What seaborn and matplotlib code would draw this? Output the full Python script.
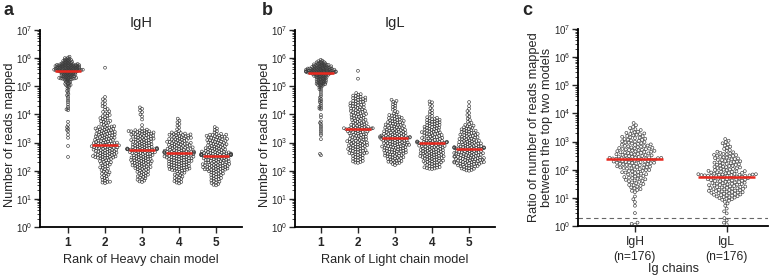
import numpy as np
import pandas as pd
import matplotlib
matplotlib.use("Agg")
import matplotlib.pyplot as plt
import seaborn as sns
from matplotlib.collections import PathCollection
from matplotlib.ticker import LogLocator, NullFormatter

# ---- data: log10 of the values ----------------------------------------------
# a) reads mapped to the heavy chain models, by rank
igh_rank1 = [6.05, 6.02, 6.00, 5.98, 5.97, 5.95, 5.94, 5.93, 5.92, 5.91,
             5.90, 5.89, 5.88, 5.87, 5.86, 5.85, 5.84, 5.83, 5.82, 5.82,
             5.81, 5.80, 5.79, 5.79, 5.78, 5.78, 5.78, 5.77, 5.77, 5.76,
             5.76, 5.76, 5.75, 5.75, 5.74, 5.74, 5.74, 5.73, 5.73, 5.72,
             5.72, 5.72, 5.71, 5.71, 5.71, 5.70, 5.70, 5.69, 5.69, 5.69,
             5.68, 5.68, 5.67, 5.67, 5.67, 5.66, 5.66, 5.65, 5.65, 5.65,
             5.64, 5.64, 5.63, 5.63, 5.63, 5.62, 5.62, 5.62, 5.61, 5.61,
             5.60, 5.60, 5.60, 5.59, 5.59, 5.59, 5.58, 5.58, 5.58, 5.57,
             5.57, 5.57, 5.56, 5.56, 5.56, 5.56, 5.55, 5.55, 5.54, 5.54,
             5.53, 5.53, 5.52, 5.52, 5.51, 5.51, 5.50, 5.50, 5.49, 5.48,
             5.48, 5.47, 5.46, 5.46, 5.45, 5.44, 5.44, 5.43, 5.42, 5.42,
             5.41, 5.40, 5.40, 5.39, 5.38, 5.38, 5.37, 5.36, 5.35, 5.35,
             5.34, 5.33, 5.32, 5.32, 5.31, 5.30, 5.30, 5.29, 5.28, 5.28,
             5.27, 5.27, 5.26, 5.26, 5.25, 5.25, 5.23, 5.21, 5.20, 5.18,
             5.16, 5.15, 5.13, 5.11, 5.09, 5.07, 5.05, 5.04, 5.02, 5.00,
             4.96, 4.92, 4.87, 4.83, 4.78, 4.72, 4.68, 4.63, 4.57, 4.50,
             4.44, 4.36, 4.28, 4.22, 4.18, 4.15, 3.74, 3.62, 3.55, 3.50,
             3.45, 3.40, 3.28, 3.17, 2.88, 2.49]
igh_rank2 = [5.66, 4.62, 4.54, 4.49, 4.40, 4.37, 4.29, 4.26, 4.19, 4.17,
             4.11, 4.09, 4.04, 4.03, 3.98, 3.95, 3.94, 3.90, 3.87, 3.86,
             3.83, 3.81, 3.77, 3.76, 3.74, 3.71, 3.69, 3.66, 3.63, 3.61,
             3.58, 3.57, 3.55, 3.55, 3.53, 3.52, 3.50, 3.49, 3.49, 3.47,
             3.46, 3.44, 3.43, 3.42, 3.41, 3.39, 3.38, 3.38, 3.36, 3.35,
             3.34, 3.32, 3.31, 3.31, 3.29, 3.28, 3.27, 3.25, 3.24, 3.24,
             3.22, 3.21, 3.20, 3.18, 3.17, 3.17, 3.15, 3.14, 3.13, 3.12,
             3.10, 3.10, 3.08, 3.07, 3.06, 3.05, 3.04, 3.02, 3.01, 3.00,
             2.99, 2.98, 2.98, 2.97, 2.96, 2.95, 2.94, 2.93, 2.92, 2.91,
             2.90, 2.89, 2.87, 2.87, 2.86, 2.84, 2.83, 2.83, 2.81, 2.80,
             2.79, 2.78, 2.76, 2.75, 2.75, 2.73, 2.72, 2.71, 2.70, 2.68,
             2.67, 2.67, 2.65, 2.64, 2.63, 2.61, 2.60, 2.59, 2.58, 2.56,
             2.55, 2.54, 2.53, 2.51, 2.50, 2.49, 2.47, 2.46, 2.45, 2.44,
             2.42, 2.40, 2.38, 2.37, 2.34, 2.32, 2.30, 2.28, 2.26, 2.24,
             2.22, 2.19, 2.17, 2.15, 2.12, 2.10, 2.07, 2.05, 2.02, 1.99,
             1.97, 1.94, 1.91, 1.89, 1.86, 1.84, 1.80, 1.77, 1.74, 1.71,
             1.68, 1.65, 1.61, 1.60, 1.58, 1.56, 2.88, 2.85, 2.80, 2.74,
             2.69, 2.62, 2.57, 2.52, 2.48, 2.46]
igh_rank3 = [4.25, 4.20, 4.14, 4.08, 4.00, 3.93, 3.82, 3.62, 3.50, 3.46,
             3.44, 3.43, 3.42, 3.41, 3.40, 3.40, 3.38, 3.37, 3.36, 3.35,
             3.34, 3.33, 3.31, 3.30, 3.30, 3.28, 3.27, 3.26, 3.24, 3.23,
             3.22, 3.21, 3.19, 3.18, 3.17, 3.16, 3.14, 3.13, 3.12, 3.10,
             3.09, 3.08, 3.06, 3.05, 3.04, 3.03, 3.01, 3.00, 2.99, 2.97,
             2.96, 2.95, 2.94, 2.92, 2.91, 2.90, 2.89, 2.88, 2.86, 2.85,
             2.84, 2.83, 2.82, 2.81, 2.80, 2.79, 2.78, 2.77, 2.77, 2.76,
             3.39, 3.32, 3.25, 3.20, 3.11, 3.07, 3.02, 2.93, 2.87, 2.81,
             2.79, 2.78, 2.77, 2.76, 2.76, 2.76, 2.75, 2.75, 2.74, 2.73,
             2.73, 2.71, 2.70, 2.69, 2.67, 2.66, 2.66, 2.64, 2.63, 2.62,
             2.60, 2.59, 2.59, 2.57, 2.56, 2.55, 2.53, 2.52, 2.51, 2.50,
             2.48, 2.47, 2.46, 2.44, 2.43, 2.42, 2.40, 2.39, 2.38, 2.36,
             2.35, 2.34, 2.32, 2.31, 2.29, 2.28, 2.27, 2.25, 2.24, 2.22,
             2.21, 2.19, 2.18, 2.16, 2.15, 2.13, 2.12, 2.10, 2.08, 2.06,
             2.05, 2.03, 2.01, 1.99, 1.97, 1.96, 1.94, 1.92, 1.90, 1.88,
             1.86, 1.84, 1.82, 1.80, 1.78, 1.76, 1.73, 1.70, 1.68, 1.65,
             1.62, 1.60, 2.71, 2.65, 2.61, 2.54, 2.49, 2.45, 2.41, 2.37,
             2.33, 2.30, 2.26, 2.20, 2.14, 2.09]
igh_rank4 = [3.85, 3.78, 3.72, 3.66, 3.60, 3.53, 3.47, 3.41, 3.36, 3.35,
             3.34, 3.32, 3.31, 3.30, 3.29, 3.28, 3.26, 3.25, 3.24, 3.23,
             3.22, 3.20, 3.19, 3.18, 3.17, 3.16, 3.15, 3.13, 3.12, 3.11,
             3.10, 3.09, 3.08, 3.06, 3.05, 3.04, 3.03, 3.02, 3.01, 2.99,
             2.98, 2.97, 2.96, 2.95, 2.94, 2.93, 2.91, 2.90, 2.89, 2.88,
             2.87, 2.86, 2.85, 2.84, 2.83, 2.82, 2.81, 2.80, 2.79, 2.78,
             2.77, 2.76, 2.75, 2.74, 2.73, 2.72, 2.71, 2.70, 2.69, 2.69,
             2.68, 2.68, 2.67, 2.67, 2.66, 2.66, 2.65, 2.65, 2.64, 2.64,
             2.64, 2.63, 2.63, 3.27, 3.14, 3.00, 2.92, 2.78, 2.62, 2.61,
             2.60, 2.59, 2.58, 2.57, 2.56, 2.55, 2.54, 2.53, 2.52, 2.51,
             2.50, 2.49, 2.48, 2.47, 2.46, 2.45, 2.44, 2.43, 2.42, 2.41,
             2.40, 2.39, 2.37, 2.36, 2.35, 2.34, 2.33, 2.32, 2.30, 2.29,
             2.28, 2.27, 2.26, 2.24, 2.23, 2.22, 2.21, 2.20, 2.18, 2.17,
             2.16, 2.15, 2.13, 2.12, 2.11, 2.10, 2.08, 2.07, 2.06, 2.05,
             2.04, 2.02, 2.01, 2.00, 2.58, 2.47, 2.38, 2.25, 2.14, 2.09,
             2.03, 2.55, 2.44, 2.31, 2.19, 2.60, 2.50, 2.35, 1.98, 1.96,
             1.93, 1.91, 1.89, 1.86, 1.84, 1.81, 1.79, 1.76, 1.74, 1.71,
             1.68, 1.66, 1.63, 1.60, 1.58, 1.55]
igh_rank5 = [3.55, 3.50, 3.45, 3.40, 3.36, 3.31, 3.30, 3.28, 3.28, 3.27,
             3.25, 3.24, 3.23, 3.21, 3.21, 3.19, 3.18, 3.17, 3.16, 3.14,
             3.13, 3.12, 3.11, 3.09, 3.08, 3.08, 3.06, 3.05, 3.04, 3.02,
             3.01, 3.00, 2.99, 2.98, 2.96, 2.95, 2.94, 2.93, 2.92, 2.90,
             2.89, 2.88, 2.87, 2.86, 2.85, 2.83, 2.82, 2.81, 2.80, 2.79,
             2.78, 2.77, 2.76, 2.75, 2.74, 2.73, 2.72, 2.71, 2.70, 2.69,
             2.68, 2.67, 2.66, 2.66, 2.65, 2.64, 2.63, 2.63, 2.62, 2.61,
             2.61, 2.60, 2.60, 2.59, 2.59, 2.58, 2.58, 2.57, 2.57, 2.57,
             2.56, 2.56, 2.56, 2.55, 2.55, 2.55, 2.54, 2.54, 2.53, 2.53,
             2.52, 2.51, 2.50, 2.49, 2.48, 2.47, 2.46, 2.45, 2.44, 2.43,
             2.42, 2.41, 2.40, 2.39, 2.38, 2.37, 2.36, 2.35, 2.34, 2.33,
             2.32, 2.31, 2.30, 2.29, 2.28, 2.27, 2.26, 2.25, 2.24, 2.23,
             2.22, 2.21, 2.20, 2.19, 2.18, 2.17, 2.16, 2.15, 2.14, 2.13,
             2.12, 2.11, 2.10, 2.09, 2.08, 2.07, 2.06, 2.05, 2.04, 2.03,
             2.02, 2.01, 2.00, 1.98, 1.97, 1.95, 1.94, 1.92, 1.90, 1.89,
             1.87, 1.85, 1.84, 1.82, 1.80, 1.78, 1.76, 1.74, 1.72, 1.70,
             1.68, 1.65, 1.63, 1.61, 1.58, 1.56, 1.53, 1.50, 1.48, 2.44,
             2.29, 2.16, 2.05, 2.38, 2.21, 2.10]

# b) reads mapped to the light chain models, by rank
igl_rank1 = [5.94, 5.91, 5.89, 5.87, 5.85, 5.84, 5.83, 5.82, 5.81, 5.80,
             5.79, 5.78, 5.78, 5.77, 5.76, 5.75, 5.75, 5.74, 5.73, 5.73,
             5.72, 5.71, 5.71, 5.70, 5.70, 5.69, 5.68, 5.68, 5.67, 5.67,
             5.66, 5.66, 5.65, 5.65, 5.64, 5.64, 5.63, 5.63, 5.63, 5.62,
             5.62, 5.61, 5.61, 5.61, 5.60, 5.60, 5.59, 5.59, 5.59, 5.58,
             5.58, 5.57, 5.57, 5.57, 5.56, 5.56, 5.56, 5.55, 5.55, 5.55,
             5.54, 5.54, 5.54, 5.53, 5.53, 5.53, 5.52, 5.52, 5.52, 5.51,
             5.51, 5.51, 5.50, 5.50, 5.50, 5.50, 5.49, 5.49, 5.49, 5.49,
             5.48, 5.48, 5.48, 5.47, 5.47, 5.46, 5.46, 5.45, 5.45, 5.44,
             5.44, 5.43, 5.43, 5.42, 5.41, 5.41, 5.40, 5.39, 5.39, 5.38,
             5.37, 5.36, 5.36, 5.35, 5.34, 5.33, 5.32, 5.32, 5.31, 5.30,
             5.29, 5.28, 5.27, 5.26, 5.25, 5.24, 5.23, 5.22, 5.21, 5.20,
             5.19, 5.18, 5.17, 5.16, 5.15, 5.14, 5.13, 5.12, 5.11, 5.10,
             5.09, 5.08, 5.07, 5.06, 5.05, 5.04, 5.02, 5.00, 4.97, 4.94,
             4.90, 4.87, 4.80, 4.72, 4.65, 4.60, 4.55, 4.50, 4.47, 4.43,
             4.38, 4.31, 4.27, 4.24, 4.21, 4.18, 3.98, 3.90, 3.75, 3.70,
             3.65, 3.58, 3.52, 3.45, 3.39, 3.32, 3.26, 3.12, 2.60, 2.55,
             5.86, 5.76, 5.69, 5.62, 5.58, 5.53]
igl_rank2 = [5.55, 5.27, 4.76, 4.72, 4.70, 4.67, 4.66, 4.63, 4.61, 4.60,
             4.58, 4.56, 4.55, 4.53, 4.52, 4.50, 4.48, 4.47, 4.45, 4.44,
             4.42, 4.40, 4.39, 4.37, 4.36, 4.34, 4.33, 4.31, 4.29, 4.28,
             4.26, 4.25, 4.23, 4.21, 4.20, 4.18, 4.17, 4.15, 4.13, 4.12,
             4.10, 4.09, 4.07, 4.05, 4.04, 4.02, 4.01, 3.99, 3.97, 3.96,
             3.94, 3.93, 3.91, 3.89, 3.88, 3.86, 3.85, 3.83, 3.81, 3.80,
             3.78, 3.77, 3.75, 3.73, 3.72, 3.70, 3.69, 3.67, 3.66, 3.64,
             3.63, 3.61, 3.60, 3.59, 3.57, 3.56, 3.55, 3.54, 3.53, 3.52,
             3.51, 3.51, 3.50, 3.50, 3.49, 3.49, 3.48, 3.47, 3.46, 3.45,
             3.44, 3.43, 3.41, 3.40, 3.39, 3.37, 3.36, 3.35, 3.33, 3.32,
             3.31, 3.29, 3.28, 3.27, 3.25, 3.24, 3.23, 3.21, 3.20, 3.19,
             3.17, 3.16, 3.15, 3.13, 3.12, 3.11, 3.09, 3.08, 3.07, 3.05,
             3.04, 3.03, 3.01, 3.00, 2.99, 2.97, 2.96, 2.95, 2.93, 2.92,
             2.91, 2.89, 2.88, 2.87, 2.85, 2.84, 2.83, 2.81, 2.80, 2.79,
             2.77, 2.76, 2.75, 2.73, 2.72, 2.70, 2.69, 2.67, 2.66, 2.64,
             2.63, 2.61, 2.60, 2.58, 2.56, 2.55, 2.53, 2.51, 2.49, 2.47,
             2.45, 2.43, 2.41, 2.39, 2.37, 2.35, 2.33, 2.31, 2.29, 2.28,
             3.46, 3.38, 3.02, 2.90, 2.71, 2.62]
igl_rank3 = [4.52, 4.48, 4.45, 4.40, 4.36, 4.31, 4.27, 4.22, 4.17, 4.12,
             4.08, 4.03, 4.00, 3.98, 3.96, 3.94, 3.92, 3.90, 3.88, 3.87,
             3.85, 3.84, 3.82, 3.80, 3.79, 3.77, 3.76, 3.75, 3.73, 3.72,
             3.71, 3.69, 3.68, 3.67, 3.65, 3.64, 3.63, 3.62, 3.60, 3.59,
             3.58, 3.57, 3.55, 3.54, 3.53, 3.52, 3.51, 3.50, 3.48, 3.47,
             3.46, 3.45, 3.44, 3.43, 3.42, 3.41, 3.40, 3.39, 3.38, 3.37,
             3.36, 3.35, 3.34, 3.33, 3.32, 3.31, 3.30, 3.29, 3.28, 3.27,
             3.26, 3.25, 3.25, 3.24, 3.23, 3.22, 3.22, 3.21, 3.20, 3.20,
             3.19, 3.19, 3.18, 3.18, 3.17, 3.17, 3.16, 3.16, 3.15, 3.14,
             3.13, 3.12, 3.11, 3.10, 3.09, 3.08, 3.07, 3.06, 3.05, 3.04,
             3.03, 3.02, 3.01, 3.00, 2.99, 2.98, 2.97, 2.96, 2.95, 2.94,
             2.93, 2.92, 2.91, 2.90, 2.89, 2.88, 2.87, 2.86, 2.85, 2.84,
             2.83, 2.82, 2.80, 2.79, 2.78, 2.77, 2.75, 2.74, 2.73, 2.72,
             2.70, 2.69, 2.68, 2.66, 2.65, 2.64, 2.62, 2.61, 2.60, 2.58,
             2.57, 2.55, 2.54, 2.52, 2.51, 2.49, 2.47, 2.46, 2.44, 2.42,
             2.40, 2.38, 2.36, 2.34, 2.32, 2.30, 2.28, 2.26, 2.24, 2.20,
             3.11, 3.06, 2.98, 2.92, 2.86, 2.81, 2.76, 2.71, 2.67, 2.63,
             2.59, 2.53, 2.48, 2.43, 2.37, 2.31]
igl_rank4 = [4.46, 4.43, 4.35, 4.30, 4.22, 4.15, 4.10, 4.05, 4.00, 3.95,
             3.90, 3.88, 3.86, 3.84, 3.83, 3.81, 3.80, 3.78, 3.77, 3.75,
             3.74, 3.72, 3.71, 3.69, 3.68, 3.66, 3.65, 3.63, 3.62, 3.60,
             3.59, 3.57, 3.56, 3.55, 3.53, 3.52, 3.51, 3.49, 3.48, 3.47,
             3.45, 3.44, 3.43, 3.41, 3.40, 3.39, 3.37, 3.36, 3.35, 3.34,
             3.32, 3.31, 3.30, 3.29, 3.27, 3.26, 3.25, 3.24, 3.22, 3.21,
             3.20, 3.19, 3.17, 3.16, 3.15, 3.14, 3.13, 3.11, 3.10, 3.09,
             3.08, 3.07, 3.06, 3.05, 3.04, 3.03, 3.03, 3.02, 3.02, 3.01,
             3.01, 3.00, 3.00, 3.00, 2.99, 2.99, 2.98, 2.98, 2.97, 2.96,
             2.95, 2.94, 2.93, 2.92, 2.91, 2.90, 2.89, 2.88, 2.87, 2.86,
             2.85, 2.84, 2.83, 2.82, 2.81, 2.80, 2.79, 2.78, 2.77, 2.76,
             2.75, 2.74, 2.73, 2.72, 2.71, 2.70, 2.69, 2.68, 2.67, 2.66,
             2.65, 2.64, 2.63, 2.62, 2.61, 2.60, 2.59, 2.58, 2.57, 2.56,
             2.55, 2.54, 2.53, 2.52, 2.51, 2.50, 2.49, 2.48, 2.47, 2.46,
             2.45, 2.44, 2.42, 2.41, 2.40, 2.38, 2.37, 2.36, 2.34, 2.33,
             2.32, 2.30, 2.29, 2.27, 2.26, 2.24, 2.23, 2.21, 2.19, 2.17,
             2.15, 2.13, 2.11, 2.09, 2.07, 2.06, 2.87, 2.74, 2.62, 2.51,
             2.43, 2.35, 2.28, 2.20, 2.12, 2.08]
igl_rank5 = [4.44, 4.30, 4.20, 4.12, 4.05, 3.98, 3.92, 3.85, 3.80, 3.74,
             3.70, 3.66, 3.63, 3.60, 3.58, 3.56, 3.54, 3.52, 3.50, 3.48,
             3.47, 3.45, 3.44, 3.42, 3.41, 3.39, 3.38, 3.36, 3.35, 3.34,
             3.32, 3.31, 3.30, 3.28, 3.27, 3.26, 3.24, 3.23, 3.22, 3.21,
             3.19, 3.18, 3.17, 3.16, 3.14, 3.13, 3.12, 3.11, 3.10, 3.08,
             3.07, 3.06, 3.05, 3.04, 3.03, 3.02, 3.01, 3.00, 2.99, 2.98,
             2.97, 2.96, 2.95, 2.94, 2.93, 2.92, 2.91, 2.90, 2.89, 2.88,
             2.87, 2.86, 2.86, 2.85, 2.84, 2.84, 2.83, 2.83, 2.82, 2.82,
             2.81, 2.81, 2.80, 2.80, 2.80, 2.79, 2.79, 2.78, 2.78, 2.77,
             2.76, 2.75, 2.74, 2.73, 2.72, 2.71, 2.70, 2.69, 2.68, 2.67,
             2.66, 2.65, 2.64, 2.63, 2.62, 2.61, 2.60, 2.59, 2.58, 2.57,
             2.56, 2.55, 2.54, 2.53, 2.52, 2.51, 2.50, 2.49, 2.48, 2.47,
             2.46, 2.45, 2.44, 2.43, 2.42, 2.41, 2.40, 2.39, 2.38, 2.37,
             2.36, 2.35, 2.34, 2.33, 2.32, 2.31, 2.30, 2.29, 2.28, 2.27,
             2.26, 2.25, 2.24, 2.22, 2.21, 2.20, 2.18, 2.17, 2.15, 2.14,
             2.12, 2.11, 2.09, 2.07, 2.05, 2.03, 2.01, 2.00, 2.65, 2.55,
             2.45, 2.38, 2.31, 2.24, 2.16, 2.70, 2.60, 2.50, 2.42, 2.34,
             2.27, 2.19, 2.08, 2.62, 2.47, 2.29]

# c) ratio of reads mapped between the top two models
ratio_igh = [3.66, 3.58, 3.52, 3.48, 3.44, 3.41, 3.38, 3.35, 3.33, 3.31,
             3.29, 3.27, 3.26, 3.24, 3.22, 3.20, 3.19, 3.17, 3.15, 3.14,
             3.12, 3.10, 3.09, 3.07, 3.06, 3.04, 3.03, 3.01, 3.00, 2.98,
             2.97, 2.96, 2.94, 2.93, 2.92, 2.90, 2.89, 2.88, 2.86, 2.85,
             2.84, 2.83, 2.82, 2.80, 2.79, 2.78, 2.77, 2.76, 2.75, 2.74,
             2.73, 2.72, 2.71, 2.70, 2.69, 2.68, 2.67, 2.66, 2.65, 2.64,
             2.63, 2.62, 2.61, 2.60, 2.59, 2.58, 2.57, 2.56, 2.55, 2.54,
             2.53, 2.52, 2.51, 2.50, 2.49, 2.48, 2.47, 2.46, 2.45, 2.44,
             2.43, 2.42, 2.42, 2.41, 2.41, 2.40, 2.40, 2.39, 2.39, 2.38,
             2.37, 2.36, 2.35, 2.34, 2.33, 2.32, 2.31, 2.30, 2.29, 2.28,
             2.27, 2.26, 2.25, 2.24, 2.23, 2.22, 2.21, 2.20, 2.19, 2.18,
             2.16, 2.15, 2.14, 2.12, 2.11, 2.10, 2.08, 2.07, 2.05, 2.04,
             2.02, 2.01, 1.99, 1.98, 1.96, 1.94, 1.92, 1.90, 1.88, 1.86,
             1.84, 1.82, 1.80, 1.78, 1.76, 1.74, 1.72, 1.70, 1.68, 1.66,
             1.64, 1.62, 1.60, 1.57, 1.55, 1.52, 1.49, 1.46, 1.43, 1.40,
             1.37, 1.34, 1.31, 1.28, 1.25, 1.20, 1.05, 0.95, 0.85, 0.72,
             0.46, 0.12, 0.08, 0.05, 2.36, 2.29, 2.17, 2.06, 1.95, 1.83,
             1.71, 1.59, 1.45, 2.25, 2.09, 1.91]
ratio_igl = [3.09, 3.03, 2.98, 2.94, 2.90, 2.86, 2.82, 2.78, 2.74, 2.70,
             2.67, 2.64, 2.62, 2.60, 2.58, 2.56, 2.55, 2.53, 2.52, 2.50,
             2.49, 2.47, 2.46, 2.44, 2.43, 2.41, 2.40, 2.38, 2.37, 2.35,
             2.34, 2.33, 2.31, 2.30, 2.29, 2.27, 2.26, 2.25, 2.23, 2.22,
             2.21, 2.19, 2.18, 2.17, 2.15, 2.14, 2.13, 2.11, 2.10, 2.09,
             2.08, 2.06, 2.05, 2.04, 2.03, 2.01, 2.00, 1.99, 1.98, 1.96,
             1.95, 1.94, 1.93, 1.92, 1.91, 1.90, 1.89, 1.88, 1.87, 1.86,
             1.85, 1.84, 1.84, 1.83, 1.83, 1.82, 1.82, 1.81, 1.81, 1.80,
             1.80, 1.79, 1.79, 1.78, 1.78, 1.77, 1.76, 1.75, 1.74, 1.73,
             1.72, 1.71, 1.70, 1.69, 1.68, 1.67, 1.66, 1.65, 1.64, 1.63,
             1.62, 1.60, 1.59, 1.58, 1.57, 1.55, 1.54, 1.53, 1.52, 1.50,
             1.49, 1.48, 1.46, 1.45, 1.44, 1.42, 1.41, 1.40, 1.38, 1.37,
             1.36, 1.34, 1.33, 1.32, 1.30, 1.29, 1.28, 1.26, 1.25, 1.24,
             1.22, 1.21, 1.20, 1.18, 1.17, 1.15, 1.14, 1.12, 1.11, 1.09,
             1.08, 1.06, 1.05, 1.03, 1.01, 0.99, 0.97, 0.95, 0.93, 0.90,
             0.86, 0.80, 0.72, 0.62, 0.52, 0.45, 0.28, 0.20, 0.12, 0.06,
             1.70, 1.61, 1.51, 1.43, 1.35, 1.27, 1.19, 1.10, 1.02, 1.56,
             1.39, 1.23, 1.65, 1.47, 1.31, 1.16]

ranks = ["1", "2", "3", "4", "5"]
chains = ["IgH", "IgL"]
ratio_cutoff = 2

# ---- style --------------------------------------------------------------
sns.set_style("ticks")
plt.rcParams["font.family"] = ["Liberation Sans", "DejaVu Sans"]
plt.rcParams["mathtext.fontset"] = "custom"
plt.rcParams["mathtext.rm"] = "Liberation Sans"
plt.rcParams["mathtext.it"] = "Liberation Sans:italic"
plt.rcParams["mathtext.bf"] = "Liberation Sans:bold"

DOT_EDGE = "#3a3a3a"
MEDIAN_RED = "#e8281e"


def to_frame(groups, names):
    return pd.DataFrame({
        "group": np.repeat(names, [len(g) for g in groups]),
        "value": 10 ** np.concatenate([np.asarray(g, float) for g in groups]),
    })


def swarm(ax, groups, names, sizes, half):
    df = to_frame(groups, names)
    sns.swarmplot(data=df, x="group", y="value", order=names, ax=ax,
                  log_scale=True, size=max(sizes), color="white",
                  edgecolor=DOT_EDGE, linewidth=0.45, warn_thresh=1)
    # packing size per category (one collection per category)
    colls = [c for c in ax.collections if isinstance(c, PathCollection)]
    for coll, s in zip(colls, sizes):
        coll.set_sizes([s ** 2])
    med = df.groupby("group")["value"].median().reindex(names).values
    pos = np.arange(len(names))
    ax.hlines(med, pos - half, pos + half, color=MEDIAN_RED, lw=1.8, zorder=6)


def style_axis(ax):
    ax.set_yscale("log")
    ax.set_ylim(1, 1e7)
    ax.yaxis.set_major_locator(LogLocator(base=10, numticks=12))
    ax.yaxis.set_minor_locator(LogLocator(base=10, subs=np.arange(2, 10), numticks=100))
    ax.yaxis.set_minor_formatter(NullFormatter())
    ax.tick_params(axis="y", which="major", length=4, width=1.0, labelsize=7, pad=1.5)
    ax.tick_params(axis="y", which="minor", length=2, width=0.6)
    ax.tick_params(axis="x", length=4, width=1.0, pad=3)
    sns.despine(ax=ax)
    for s in ("left", "bottom"):
        ax.spines[s].set_linewidth(1.3)
        ax.spines[s].set_color("black")


fig = plt.figure(figsize=(7.78, 2.75), dpi=100)
ax_a = fig.add_axes([40 / 778, 48 / 275, 202 / 778, 197 / 275])
ax_b = fig.add_axes([295 / 778, 48 / 275, 200 / 778, 197 / 275])
ax_c = fig.add_axes([578 / 778, 49 / 275, 190 / 778, 197 / 275])

pack_sizes = [0.75, 1.35, 1.35, 1.35, 1.35]
swarm(ax_a, [igh_rank1, igh_rank2, igh_rank3, igh_rank4, igh_rank5], ranks, pack_sizes, 0.35)
swarm(ax_b, [igl_rank1, igl_rank2, igl_rank3, igl_rank4, igl_rank5], ranks, pack_sizes, 0.35)
swarm(ax_c, [ratio_igh, ratio_igl], chains, [1.85, 1.8], 0.31)
ax_c.axhline(ratio_cutoff, color="#666666", lw=0.8, ls=(0, (4, 3)), zorder=1)

for ax in (ax_a, ax_b, ax_c):
    style_axis(ax)

ax_a.set_xlim(-0.757, 4.70)
ax_b.set_xlim(-0.70, 4.70)
ax_c.set_xlim(-0.62, 1.45)

ax_a.set_title("IgH", fontsize=10.5, pad=1)
ax_b.set_title("IgL", fontsize=10.5, pad=1)
ax_a.set_xlabel("Rank of Heavy chain model", fontsize=9.2)
ax_b.set_xlabel("Rank of Light chain model", fontsize=9.2)
ax_a.set_ylabel("Number of reads mapped", fontsize=9.2)
ax_b.set_ylabel("Number of reads mapped", fontsize=9.2)
ax_c.set_xlabel("Ig chains", fontsize=9.2, labelpad=0)
ax_c.set_ylabel("Ratio of number of reads mapped\nbetween the top two models",
                fontsize=9.2, linespacing=1.2)
for ax in (ax_a, ax_b):
    ax.set_xticks(range(len(ranks)))
    ax.set_xticklabels(ranks, fontsize=8.5, fontweight="bold")
ax_c.set_xticks(range(len(chains)))
ax_c.set_xticklabels([f"{c}\n(n={len(v)})" for c, v in zip(chains, [ratio_igh, ratio_igl])],
                     fontsize=8.7, linespacing=1.35)

ax_a.yaxis.set_label_coords(-0.12, 0.47)
ax_b.yaxis.set_label_coords(-0.12, 0.47)
ax_c.yaxis.set_label_coords(-0.13, 0.5)

for x, letter in ((3, "a"), (262, "b"), (522, "c")):
    fig.text(x / 778, 1 - 2 / 275, letter, fontsize=13, fontweight="bold", va="top")

# place the swarms once with the packing sizes, then freeze them and draw
# larger, overlapping open circles like the original scatter plot
fig.canvas.draw()
for ax in (ax_a, ax_b, ax_c):
    for coll in ax.collections:
        if isinstance(coll, PathCollection):
            if "draw" in vars(coll):
                del coll.draw
            coll.set_sizes([2.1 ** 2])
            coll.set_facecolor("none")
            coll.set_zorder(3)

fig.savefig("out.png", dpi=100)
